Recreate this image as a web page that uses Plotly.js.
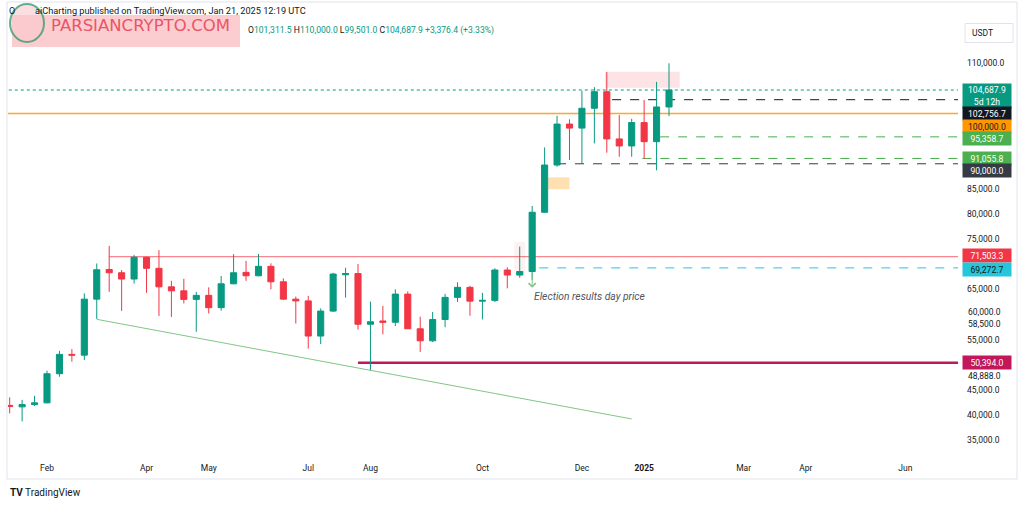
<!DOCTYPE html>
<html>
<head>
<meta charset="utf-8">
<script src="https://cdn.plot.ly/plotly-3.0.1.min.js"></script>
<style>html,body{margin:0;padding:0;background:#fff;}#chart{width:1024px;height:506px;}</style>
</head>
<body>
<div id="chart"></div>
<script>
// ---------- DATA (weekly BTC/USDT candles) ----------
const weeks = ["2024-01-15","2024-01-22","2024-01-29","2024-02-05","2024-02-12","2024-02-19","2024-02-26","2024-03-04","2024-03-11","2024-03-18","2024-03-25","2024-04-01","2024-04-08","2024-04-15","2024-04-22","2024-04-29","2024-05-06","2024-05-13","2024-05-20","2024-05-27","2024-06-03","2024-06-10","2024-06-17","2024-06-24","2024-07-01","2024-07-08","2024-07-15","2024-07-22","2024-07-29","2024-08-05","2024-08-12","2024-08-19","2024-08-26","2024-09-02","2024-09-09","2024-09-16","2024-09-23","2024-09-30","2024-10-07","2024-10-14","2024-10-21","2024-10-28","2024-11-04","2024-11-11","2024-11-18","2024-11-25","2024-12-02","2024-12-09","2024-12-16","2024-12-23","2024-12-30","2025-01-06","2025-01-13","2025-01-20"];
const openP  = [41900,41600,42050,42400,48200,52050,51900,63050,68950,68300,67050,71380,69180,65500,64700,63000,63800,61350,66100,68380,67700,69580,66500,63050,62700,55700,60670,67900,68150,58050,58700,58450,64050,57150,54750,59000,63400,65400,62650,62800,68850,67850,68550,80350,89750,97900,97100,101050,104350,94950,93550,98200,94400,101311.5];
const highP  = [43500,43000,43800,48800,52750,53100,64200,70150,73650,68850,71850,71500,72800,66700,67100,64500,65400,67650,72000,70650,72050,70180,67180,63550,63700,61200,68300,69300,70050,62550,61700,65000,64600,59550,60500,64100,66400,65700,64300,69200,69400,73500,81600,93250,99550,98850,104500,105250,108250,99700,98950,102700,106300,110000];
const lowP   = [40300,38700,41750,42300,47600,50600,50950,59100,64500,60700,66150,64300,59700,59500,62200,56550,60200,60750,66000,66700,67600,65000,62900,58200,53200,54100,60500,63350,57000,48900,56050,57700,57100,52550,54500,57450,62500,59750,59000,62450,65200,67300,66900,80250,89400,90750,89950,94050,92200,91400,91400,90950,88700,99501];
const closeP = [41700,42050,42400,48200,52050,51900,63050,68900,68300,67050,71380,69180,65500,64700,63000,63800,61350,66100,68300,67700,69580,66500,63050,62700,55700,60670,68050,68150,58050,58550,58450,64050,57150,54750,59000,63400,65400,62650,62800,68850,67850,68550,80350,89750,97900,97100,101050,104350,94950,93550,98200,94400,101311.5,104687.9];

// x-axis month labels
const monthTickDates = ["2024-02-05","2024-04-01","2024-05-06","2024-07-01","2024-08-05","2024-10-07","2024-12-02","2025-01-06","2025-03-03","2025-04-07","2025-06-02"];
const monthTickText  = ["Feb","Apr","May","Jul","Aug","Oct","Dec","<b>2025</b>","Mar","Apr","Jun"];

// y-axis price ticks
const priceTickVals = [110000,85000,80000,75000,65000,55000,45000,40000,35000];
const priceTickText = ["110,000.0","85,000.0","80,000.0","75,000.0","65,000.0","55,000.0","45,000.0","40,000.0","35,000.0"];
const extraTickVals = [60000,58500,48888];
const extraTickText = ["60,000.0","58,500.0","48,888.0"];

// price-level tags on the right scale
const tagValues = [104687.9,102756.7,100000,95358.7,91055.8,90000,71503.3,69272.7,50394];
const tagTexts  = ["104,687.9<br>5d 12h","102,756.7","100,000.0","95,358.7","91,055.8","90,000.0","71,503.3","69,272.7","50,394.0"];

// horizontal levels drawn on chart
const levelValues = [104687.9,100000,102756.7,95358.7,91055.8,90000,71503.3,69272.7,50394];
const levelStarts = ["2024-01-01","2024-01-01","2024-12-19","2025-01-15","2025-01-05","2024-11-18","2024-03-11","2024-11-08","2024-07-29"];

// descending support trendline
const trendDates  = ["2024-03-04","2024-12-30"];
const trendPrices = [59030,39190];

// boxes
const orangeBox = {x:["2024-11-13","2024-11-25"], y:[84930,87300]};
const pinkBox   = {x:["2024-12-15","2025-01-26"], y:[105140,108330]};
const oct28Box  = {x:["2024-10-25","2024-10-31"], y:[67450,74420]};

// election annotation
const electionDate = "2024-11-04";
const electionPrice = 65300;
const electionText = "Election results day price";

// ---------- LAYOUT HELPERS ----------
const W=1024,H=506, L=8, R=66, T=5, B=48;
const pw=W-L-R, ph=H-T-B;
const xp = px => (px-L)/pw;
const yp = py => (H-B-py)/ph;
const wk = 7*864e5;
const t0 = Date.UTC(2024,1,5);
const iso = ms => new Date(ms).toISOString().slice(0,19).replace('T',' ');
const xRange = [iso(t0-3.135*wk), iso(t0+73.23*wk)];
const yRange = [31420, 121610];
const FONT = 'Roboto, "Liberation Sans", sans-serif';

const trace = {
  type:'candlestick', x:weeks, open:openP, high:highP, low:lowP, close:closeP,
  increasing:{line:{color:'#089981',width:1}, fillcolor:'#089981'},
  decreasing:{line:{color:'#f23645',width:1}, fillcolor:'#f23645'},
  whiskerwidth:0, hoverinfo:'skip', showlegend:false
};

// line styles per level
const levelStyle = [
  {color:'#089981',dash:'dot',width:1},
  {color:'#ffa726',dash:'solid',width:1.6},
  {color:'#131722',dash:'dash',width:1},
  {color:'#4caf50',dash:'dash',width:1},
  {color:'#4caf50',dash:'dash',width:1},
  {color:'#363a45',dash:'dash',width:1},
  {color:'rgba(242,54,69,0.6)',dash:'solid',width:1.2},
  {color:'#26c6da',dash:'dash',width:1},
  {color:'#c2185b',dash:'solid',width:2.4}
];
const shapes = [];
levelValues.forEach((v,i)=>{
  shapes.push({type:'line', xref:'x', yref:'y', x0:levelStarts[i], x1:xRange[1], y0:v, y1:v, line:levelStyle[i], layer:'below'});
});
shapes.push({type:'line', xref:'x', yref:'y', x0:trendDates[0], x1:trendDates[1], y0:trendPrices[0], y1:trendPrices[1], line:{color:'#81c784',width:1}, layer:'below'});
shapes.push({type:'rect', xref:'x', yref:'y', x0:orangeBox.x[0], x1:orangeBox.x[1], y0:orangeBox.y[0], y1:orangeBox.y[1], fillcolor:'#ffe0b2', line:{width:0}, layer:'below'});
shapes.push({type:'rect', xref:'x', yref:'y', x0:pinkBox.x[0], x1:pinkBox.x[1], y0:pinkBox.y[0], y1:pinkBox.y[1], fillcolor:'rgba(242,54,69,0.14)', line:{width:0}, layer:'below'});
shapes.push({type:'rect', xref:'x', yref:'y', x0:oct28Box.x[0], x1:oct28Box.x[1], y0:oct28Box.y[0], y1:oct28Box.y[1], fillcolor:'rgba(242,54,69,0.07)', line:{width:0}, layer:'below'});
// outer frame
shapes.push({type:'rect', xref:'paper', yref:'paper', x0:xp(7), x1:xp(1017), y0:yp(479), y1:yp(2), line:{color:'#e0e3eb',width:1}, fillcolor:'rgba(0,0,0,0)', layer:'below'});
// USDT box
shapes.push({type:'rect', xref:'paper', yref:'paper', x0:xp(965), x1:xp(1013), y0:yp(42.5), y1:yp(23.5), line:{color:'#e0e3eb',width:1}, fillcolor:'#ffffff', layer:'above'});
// watermark
shapes.push({type:'rect', xref:'paper', yref:'paper', x0:xp(12), x1:xp(240), y0:yp(47), y1:yp(15), line:{width:0}, fillcolor:'rgba(250,196,201,0.85)', layer:'above'});
shapes.push({type:'circle', xref:'paper', yref:'paper', x0:xp(10), x1:xp(44), y0:yp(42), y1:yp(4), line:{color:'rgba(30,150,100,0.7)',width:2}, fillcolor:'rgba(250,200,205,0.6)', layer:'above'});

// tag styles
const tagBg   = ['#089981','#131722','#ff9800','#4caf50','#4caf50','#363a45','#f23645','#26c6da','#c2185b'];
const tagFg   = ['#ffffff','#ffffff','#131722','#ffffff','#ffffff','#ffffff','#ffffff','#131722','#ffffff'];
const tagShift= [-6.2,-13.8,-12.5,-1.7,0.4,-7.2,1.3,-1.2,0];
const annotations = [];
tagValues.forEach((v,i)=>{
  const two = tagTexts[i].includes('<br>');
  annotations.push({xref:'paper', yref:'y', x:1, y:v, xanchor:'left', yanchor:'middle', xshift:4, yshift:tagShift[i],
    text:tagTexts[i], showarrow:false, bgcolor:tagBg[i], borderpad:2, width:44, height: two?20:9, align:'center',
    font:{family:FONT,size:8.6,color:tagFg[i]}});
});
const extraShift=[2,-2,-5.7];
extraTickVals.forEach((v,i)=>{
  annotations.push({xref:'paper', yref:'y', x:1, y:v, xanchor:'left', yanchor:'middle', xshift:9, yshift:extraShift[i],
    text:extraTickText[i], showarrow:false, bgcolor:'rgba(255,255,255,0)', borderpad:0, font:{family:FONT,size:8.5,color:'#131722'}});
});
// election arrow + text
annotations.push({xref:'x', yref:'y', x:electionDate, y:electionPrice, ax:0, ay:-16, showarrow:true, arrowhead:4, arrowsize:1.4, arrowwidth:1, arrowcolor:'#81c784', text:''});
annotations.push({xref:'x', yref:'y', x:electionDate, y:electionPrice, xanchor:'left', yanchor:'middle', xshift:0, yshift:-9, showarrow:false,
  text:'<i>'+electionText+'</i>', font:{family:FONT,size:10.3,color:'#50535e'}});
// header texts
annotations.push({xref:'paper', yref:'paper', x:xp(7), y:yp(11), xanchor:'left', yanchor:'middle', showarrow:false, text:'O', font:{family:FONT,size:9,color:'#131722'}});
annotations.push({xref:'paper', yref:'paper', x:xp(33), y:yp(11), xanchor:'left', yanchor:'middle', showarrow:false, text:'aiCharting published on TradingView.com, Jan 21, 2025 12:19 UTC', font:{family:FONT,size:9.2,color:'#131722'}});
const g = s => '<span style="color:#089981">'+s+'</span>';
annotations.push({xref:'paper', yref:'paper', x:xp(246), y:yp(31), xanchor:'left', yanchor:'middle', showarrow:false,
  text:'O'+g('101,311.5')+' H'+g('110,000.0')+' L'+g('99,501.0')+' C'+g('104,687.9')+' '+g('+3,376.4 (+3.33%)'), font:{family:FONT,size:8.6,color:'#131722'}});
annotations.push({xref:'paper', yref:'paper', x:xp(140), y:yp(25), xanchor:'center', yanchor:'middle', showarrow:false, text:'PARSIANCRYPTO.COM', font:{family:'"DejaVu Sans", sans-serif',size:16.5,color:'#ea5565'}});
annotations.push({xref:'paper', yref:'paper', x:xp(982), y:yp(33), xanchor:'center', yanchor:'middle', showarrow:false, text:'USDT', font:{family:FONT,size:8.5,color:'#131722'}});
annotations.push({xref:'paper', yref:'paper', x:xp(8), y:yp(492), xanchor:'left', yanchor:'middle', showarrow:false, text:'<b>TV</b> TradingView', font:{family:FONT,size:10,color:'#131722'}});

const layout = {
  width:W, height:H, margin:{l:L,r:R,t:T,b:B,pad:0},
  paper_bgcolor:'#ffffff', plot_bgcolor:'#ffffff', showlegend:false, dragmode:false,
  xaxis:{type:'date', range:xRange, rangeslider:{visible:false}, showgrid:false, zeroline:false, showline:false, ticks:'', ticklabelstandoff:3,
    tickmode:'array', tickvals:monthTickDates, ticktext:monthTickText, tickfont:{family:FONT,size:8.5,color:'#131722'}, fixedrange:true},
  yaxis:{side:'right', range:yRange, showgrid:false, zeroline:false, showline:false, ticks:'', ticklabelstandoff:8,
    tickmode:'array', tickvals:priceTickVals, ticktext:priceTickText, tickfont:{family:FONT,size:8.5,color:'#131722'}, fixedrange:true},
  shapes:shapes, annotations:annotations
};
Plotly.newPlot('chart',[trace],layout,{displayModeBar:false, staticPlot:true});
</script>
</body>
</html>
